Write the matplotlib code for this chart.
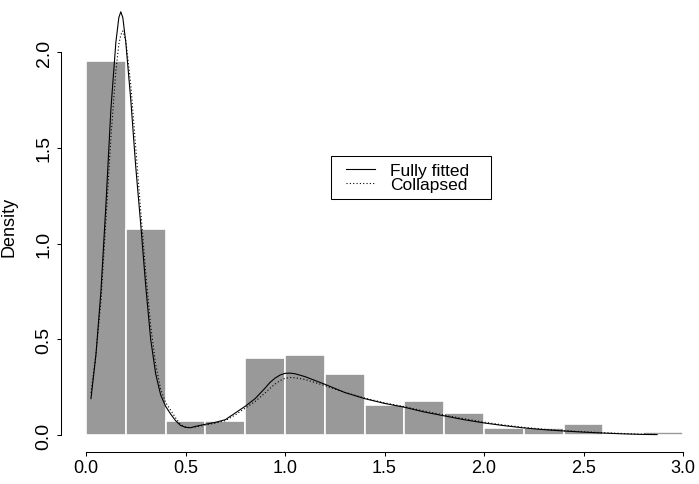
import numpy as np
import matplotlib.pyplot as plt
from matplotlib.patches import Rectangle
from matplotlib.lines import Line2D

plt.rcParams['font.family'] = ['Liberation Sans', 'DejaVu Sans']

# histogram (density scale), bins of width 0.2
bin_left = [0.0, 0.2, 0.4, 0.6, 0.8, 1.0, 1.2, 1.4, 1.6, 1.8, 2.0, 2.2, 2.4, 2.6, 2.8]
bin_density = [1.955, 1.077, 0.075, 0.075, 0.40, 0.42, 0.32, 0.157, 0.179,
               0.115, 0.036, 0.035, 0.056, 0.0, 0.015]

# fitted densities
fit_x = [0.025, 0.05, 0.075, 0.10, 0.125, 0.15, 0.165, 0.175, 0.185, 0.20,
         0.225, 0.25, 0.275, 0.30, 0.325, 0.35, 0.375, 0.40, 0.425, 0.45,
         0.475, 0.50, 0.525, 0.55, 0.60, 0.65, 0.70, 0.75, 0.80, 0.85,
         0.90, 0.925, 0.95, 0.975, 1.00, 1.025, 1.05, 1.10, 1.20, 1.30,
         1.40, 1.50, 1.60, 1.70, 1.80, 1.90, 2.00, 2.10, 2.20, 2.30,
         2.40, 2.50, 2.60, 2.70, 2.80, 2.87]
full_y = [0.19, 0.42, 0.75, 1.20, 1.70, 2.05, 2.18, 2.21, 2.18, 2.05,
          1.75, 1.40, 1.10, 0.78, 0.50, 0.32, 0.21, 0.15, 0.11, 0.075,
          0.05, 0.04, 0.038, 0.045, 0.056, 0.066, 0.08, 0.115, 0.15, 0.19,
          0.245, 0.275, 0.297, 0.313, 0.322, 0.323, 0.32, 0.305, 0.265, 0.222,
          0.19, 0.165, 0.145, 0.12, 0.10, 0.08, 0.063, 0.049, 0.037, 0.028,
          0.021, 0.015, 0.010, 0.006, 0.003, 0.002]
coll_y = [0.22, 0.42, 0.70, 1.12, 1.55, 1.90, 2.04, 2.09, 2.11, 2.06,
          1.83, 1.50, 1.17, 0.85, 0.57, 0.37, 0.24, 0.17, 0.13, 0.09,
          0.055, 0.042, 0.038, 0.042, 0.052, 0.062, 0.075, 0.105, 0.14, 0.175,
          0.22, 0.244, 0.266, 0.284, 0.296, 0.30, 0.299, 0.29, 0.258, 0.223,
          0.193, 0.168, 0.148, 0.125, 0.104, 0.085, 0.067, 0.052, 0.040, 0.030,
          0.023, 0.017, 0.012, 0.008, 0.004, 0.003]

xticks = [0.0, 0.5, 1.0, 1.5, 2.0, 2.5, 3.0]
yticks = [0.0, 0.5, 1.0, 1.5, 2.0]
labels = ['Fully fitted', 'Collapsed']

W, H = 699, 485
fig = plt.figure(figsize=(W / 100, H / 100), dpi=100)
ax = fig.add_axes([61 / W, 32 / H, (W - 61) / W, 453 / H])
ax.set_xlim(-25 / 199, (W - 86) / 199)
ax.set_ylim(-17 / 191.5, 436 / 191.5)

ax.bar(bin_left, bin_density, width=0.2, align='edge', color='#999999',
       edgecolor='white', linewidth=1.2)
ax.plot(fit_x, full_y, color='black', lw=0.8)
ax.plot(fit_x, coll_y, color='black', lw=0.8, dashes=(1, 2))

for s in ['top', 'right']:
    ax.spines[s].set_visible(False)
ax.spines['left'].set_bounds(0, 2)
ax.spines['bottom'].set_bounds(0, 3)
for s in ['left', 'bottom']:
    ax.spines[s].set_linewidth(0.75)

ax.set_xticks(xticks)
ax.set_xticklabels([f'{v:.1f}' for v in xticks], fontsize=13)
ax.set_yticks(yticks)
ax.set_yticklabels([f'{v:.1f}' for v in yticks], fontsize=14, rotation=90, va='center')
ax.tick_params(axis='x', length=3, width=0.75, pad=2)
ax.tick_params(axis='y', length=3, width=0.75, pad=3)

ax.set_ylabel('Density', fontsize=13)
ax.yaxis.set_label_coords(-43 / (W - 61), 0.5)

# legend box drawn by hand in pixel positions
def fx(px):
    return px / W

def fy(py):
    return 1 - py / H

fig.add_artist(Rectangle((fx(331), fy(200)), 160 / W, 43 / H, transform=fig.transFigure,
                         facecolor='white', edgecolor='black', lw=0.75))
fig.add_artist(Line2D([fx(346), fx(375)], [fy(170.3)] * 2, transform=fig.transFigure,
                      color='black', lw=0.8))
fig.add_artist(Line2D([fx(346), fx(375)], [fy(183.7)] * 2, transform=fig.transFigure,
                      color='black', lw=0.8, dashes=(1, 2)))
fig.text(fx(390), fy(176), labels[0], fontsize=12.5, va='baseline', ha='left')
fig.text(fx(390), fy(190.5), labels[1], fontsize=12.5, va='baseline', ha='left')

fig.savefig('out.png', dpi=100)
